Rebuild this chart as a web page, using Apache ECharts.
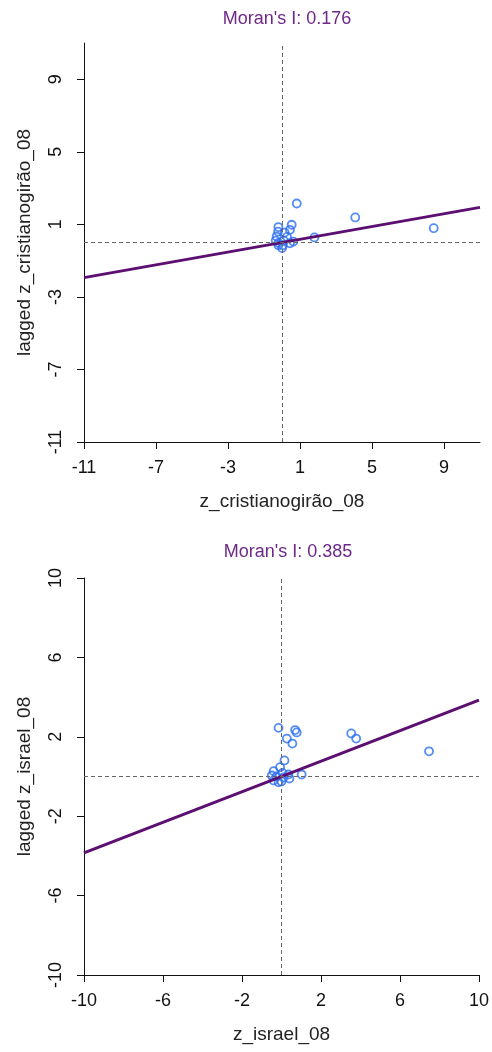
<!DOCTYPE html>
<html>
<head>
<meta charset="utf-8">
<script src="https://cdn.jsdelivr.net/npm/echarts@6/dist/echarts.min.js"></script>
<style>
  html, body { margin: 0; padding: 0; background: #fff; }
  #chart { width: 492px; height: 1052px; }
</style>
</head>
<body>
<div id="chart"></div>
<script>
// Moran scatterplots: standardized variable vs. its spatial lag
const moranI1 = 0.176;
const moranI2 = 0.385;

const xName1 = 'z_cristianogirão_08';
const yName1 = 'lagged z_cristianogirão_08';
const xName2 = 'z_israel_08';
const yName2 = 'lagged z_israel_08';

const range1 = [-11, 11];
const ticks1 = [-11, -7, -3, 1, 5, 9];
const range2 = [-10, 10];
const ticks2 = [-10, -6, -2, 2, 6, 10];

// [z value, lagged z value]
const points1 = [
  [0.82, 2.15], [4.07, 1.38], [8.43, 0.79], [1.80, 0.28],
  [-0.20, 0.85], [0.54, 0.98], [0.44, 0.70], [-0.22, 0.60],
  [0.15, 0.55], [-0.30, 0.33], [0.28, 0.31], [0.63, 0.05],
  [-0.20, -0.02], [0.44, -0.04], [-0.20, -0.15], [0.00, -0.31],
  [0.10, 0.10], [0.05, -0.15], [-0.35, 0.10]
];
const points2 = [
  [-0.15, 2.45], [0.69, 2.34], [0.77, 2.22], [0.27, 1.91],
  [0.55, 1.66], [3.53, 2.17], [3.78, 1.91], [7.47, 1.27],
  [0.15, 0.81], [1.02, 0.10], [-0.07, 0.47], [-0.40, 0.27],
  [-0.49, 0.05], [-0.40, -0.20], [-0.15, -0.29], [0.05, 0.18],
  [0.35, 0.10], [0.40, -0.10], [-0.25, 0.00], [0.10, -0.05],
  [0.00, -0.25]
];

const PURPLE = '#5c0f70';
const TITLE_PURPLE = '#6d2888';
const BLUE = '#2a6ef2';
const FONT = '"Liberation Sans", Arial, sans-serif';

function fitLine(slope, range) {
  return [[range[0], slope * range[0]], [range[1], slope * range[1]]];
}

function xAxisCfg(idx, range, ticks, name) {
  return {
    type: 'value', gridIndex: idx, min: range[0], max: range[1],
    name: name, nameLocation: 'middle', nameGap: 50,
    nameTextStyle: { fontFamily: FONT, fontSize: 19, color: '#222' },
    axisLine: { show: true, onZero: false, lineStyle: { color: '#111', width: 1 } },
    axisTick: { show: true, inside: false, length: 7, customValues: ticks, lineStyle: { color: '#111' } },
    axisLabel: { customValues: ticks, margin: 17, fontFamily: FONT, fontSize: 18, color: '#111' },
    splitLine: { show: false }
  };
}

function yAxisCfg(idx, range, ticks, name) {
  return {
    type: 'value', gridIndex: idx, min: range[0], max: range[1],
    name: name, nameLocation: 'middle', nameGap: 50, nameRotate: 90,
    nameTextStyle: { fontFamily: FONT, fontSize: 19, color: '#222' },
    axisLine: { show: true, onZero: false, lineStyle: { color: '#111', width: 1 } },
    axisTick: { show: true, inside: false, length: 7, customValues: ticks, lineStyle: { color: '#111' } },
    axisLabel: { customValues: ticks, rotate: 90, margin: 19, fontFamily: FONT, fontSize: 18, color: '#111' },
    splitLine: { show: false }
  };
}

function scatterSeries(idx, data) {
  return {
    type: 'scatter', xAxisIndex: idx, yAxisIndex: idx, data: data,
    symbol: 'circle', symbolSize: 8, z: 2,
    itemStyle: { color: 'rgba(0,0,0,0)', borderColor: BLUE, borderWidth: 1.8 },
    markLine: {
      silent: true, symbol: 'none', animation: false,
      label: { show: false },
      lineStyle: { color: '#666', width: 1, type: [4, 3] },
      data: [{ xAxis: 0 }, { yAxis: 0 }]
    }
  };
}

function lineSeries(idx, slope, range) {
  return {
    type: 'line', xAxisIndex: idx, yAxisIndex: idx,
    data: fitLine(slope, range), symbol: 'none', z: 3,
    lineStyle: { color: PURPLE, width: 3 }
  };
}

const chart = echarts.init(document.getElementById('chart'));
chart.setOption({
  animation: false,
  backgroundColor: '#fff',
  title: [
    { text: "Moran's I: " + moranI1.toFixed(3), left: 282, top: 5, textAlign: 'center',
      textStyle: { fontFamily: FONT, fontSize: 18, fontWeight: 'normal', color: TITLE_PURPLE } },
    { text: "Moran's I: " + moranI2.toFixed(3), left: 283, top: 538, textAlign: 'center',
      textStyle: { fontFamily: FONT, fontSize: 18, fontWeight: 'normal', color: TITLE_PURPLE } }
  ],
  grid: [
    { left: 84, top: 43, width: 396, height: 399 },
    { left: 84, top: 578, width: 398, height: 397 }
  ],
  xAxis: [
    xAxisCfg(0, range1, ticks1, xName1),
    xAxisCfg(1, range2, ticks2, xName2)
  ],
  yAxis: [
    yAxisCfg(0, range1, ticks1, yName1),
    yAxisCfg(1, range2, ticks2, yName2)
  ],
  series: [
    scatterSeries(0, points1),
    lineSeries(0, moranI1, range1),
    scatterSeries(1, points2),
    lineSeries(1, moranI2, range2)
  ]
});
</script>
</body>
</html>
